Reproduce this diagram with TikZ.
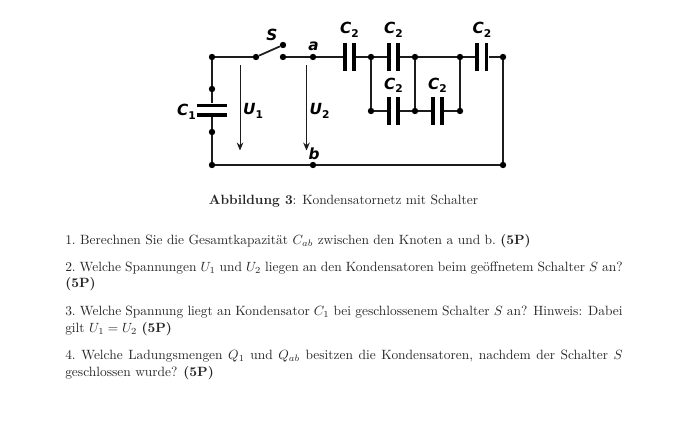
\documentclass[tikz,border=0pt]{standalone}
\usepackage{fontspec}
\usetikzlibrary{arrows.meta}
\newfontfamily\lblfont{DejaVu Sans}
\definecolor{wirec}{HTML}{1c1c1c}
\definecolor{txtc}{HTML}{262626}
\newcommand{\lsub}[1]{\raisebox{-2.6pt}{\fontsize{8pt}{9pt}\selectfont\upshape #1}}
\tikzset{
  wire/.style={draw=wirec,line width=1.3pt},
  thinwire/.style={draw=wirec,line width=1.05pt},
  dotn/.style={circle,fill=black,draw=none,inner sep=0pt,minimum size=4.8pt},
  vplate/.style={rectangle,fill=black,draw=none,inner sep=0pt,minimum width=2.7pt,minimum height=21.5pt},
  hplate/.style={rectangle,fill=black,draw=none,inner sep=0pt,minimum height=2.7pt,minimum width=22pt},
  volt/.style={draw=wirec,line width=0.75pt,-{Stealth[length=6pt,width=5pt]}},
  lbl/.style={font=\lblfont\bfseries\itshape\fontsize{11.5pt}{12pt}\selectfont,inner sep=0pt,text=black},
  para/.style={anchor=north west,inner sep=0pt,text width=418pt,align=justify,text=txtc,font=\fontsize{10.08pt}{12.4pt}\selectfont}
}
\begin{document}
\begin{tikzpicture}[x=0.75pt,y=-0.75pt]
\useasboundingbox (0,0) rectangle (680,421);
% nodes
\node[dotn] (tl) at (212,57) {};
\node[dotn] (c1t) at (212,89) {};
\node[dotn] (c1b) at (212,132) {};
\node[dotn] (bl) at (212,165) {};
\node[hplate] (c1p) at (212,105.5) {};
\node[hplate] (c1q) at (212,115) {};
\node[dotn] (sl) at (256,57) {};
\node[dotn] (su) at (283,45) {};
\node[dotn] (sr) at (283,57) {};
\node[dotn] (a) at (313,57) {};
\node[dotn] (b) at (313,165) {};
\node[vplate] (p1a) at (345,57) {};
\node[vplate] (p1b) at (354,57) {};
\node[dotn] (n1) at (371,57) {};
\node[vplate] (p2a) at (389,57) {};
\node[vplate] (p2b) at (398,57) {};
\node[dotn] (n2) at (415,57) {};
\node[dotn] (n3) at (460,57) {};
\node[vplate] (p3a) at (477,57) {};
\node[vplate] (p3b) at (486.5,57) {};
\node[dotn] (tr) at (503,57) {};
\node[dotn] (br) at (503,165) {};
\node[dotn] (m1) at (371,111) {};
\node[vplate] (p4a) at (389,111) {};
\node[vplate] (p4b) at (398,111) {};
\node[dotn] (m2) at (415,111) {};
\node[vplate] (p5a) at (433,111) {};
\node[vplate] (p5b) at (442,111) {};
\node[dotn] (m3) at (460,111) {};
% wires
\draw[wire] (sl) -- (tl) -- (c1t) -- (c1p);
\draw[wire] (c1q) -- (c1b) -- (bl) -- (b) -- (br) -- (tr) -- (p3b);
\draw[wire] (sl) -- (su);
\draw[wire] (sr) -- (a) -- (p1a);
\draw[wire] (p1b) -- (n1) -- (p2a);
\draw[wire] (p2b) -- (n2) -- (n3) -- (p3a);
\draw[thinwire] (n1) -- (m1);
\draw[thinwire] (n2) -- (m2);
\draw[thinwire] (n3) -- (m3);
\draw[wire] (m1) -- (p4a);
\draw[wire] (p4b) -- (m2) -- (p5a);
\draw[wire] (p5b) -- (m3);
% voltage arrows
\coordinate (u1s) at (240,65);
\coordinate (u1e) at (240,150.5);
\coordinate (u2s) at (306.5,65);
\coordinate (u2e) at (306.5,150.5);
\draw[volt] (u1s) -- (u1e);
\draw[volt] (u2s) -- (u2e);
% labels
\node[lbl] (ls) at (272,35) {S};
\node[lbl] (la) at (313.5,46) {a};
\node[lbl] (lb) at (314,154) {b};
\node[lbl] (lc1) at (186.5,112) {C\lsub{1}};
\node[lbl] (lu1) at (253,111) {U\lsub{1}};
\node[lbl] (lu2) at (319.5,111) {U\lsub{2}};
\node[lbl] (l1) at (349.5,30) {C\lsub{2}};
\node[lbl] (l2) at (393.5,30) {C\lsub{2}};
\node[lbl] (l3) at (482,30) {C\lsub{2}};
\node[lbl] (l4) at (393.5,85.5) {C\lsub{2}};
\node[lbl] (l5) at (437.5,85.5) {C\lsub{2}};
% text
\node[anchor=base,inner sep=0pt,text=txtc,font=\fontsize{10.08pt}{12.4pt}\selectfont] (cap) at (343.5,204) {\textbf{Abbildung 3}: Kondensatornetz mit Schalter};
\node[para] (q1) at (65,234) {1.\ Berechnen Sie die Gesamtkapazität $C_{ab}$ zwischen den Knoten a und b.\ \textbf{(5P)}};
\node[para] (q2) at (65,261.5) {2.\ Welche Spannungen $U_1$ und $U_2$ liegen an den Kondensatoren beim geöffnetem Schalter $S$ an? \textbf{(5P)}};
\node[para] (q3) at (65,306) {3.\ Welche Spannung liegt an Kondensator $C_1$ bei geschlossenem Schalter $S$ an? Hinweis: Dabei gilt $U_1 = U_2$ \textbf{(5P)}};
\node[para] (q4) at (65,350) {4.\ Welche Ladungsmengen $Q_1$ und $Q_{ab}$ besitzen die Kondensatoren, nachdem der Schalter $S$ geschlossen wurde? \textbf{(5P)}};
\end{tikzpicture}
\end{document}
